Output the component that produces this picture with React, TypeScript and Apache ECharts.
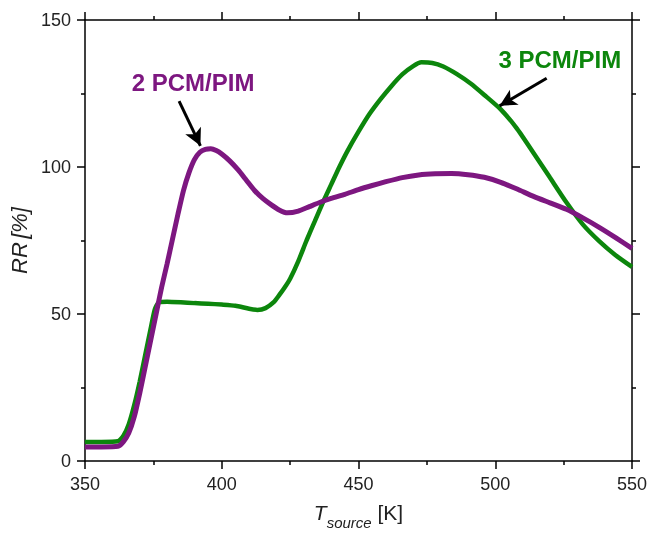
import React, { useEffect, useRef } from "react";
import * as echarts from "echarts";

const purpleT = [350, 356, 362, 364, 366, 368, 370, 372, 374, 376, 378, 380, 382, 384, 386, 388, 390, 392, 394, 396, 398, 400, 403, 406, 409, 412, 415, 418, 421, 424, 428, 432, 436, 440, 445, 450, 455, 460, 466, 472, 478, 484, 490, 496, 502, 508, 514, 520, 526, 532, 538, 544, 550];
const purpleRR = [4.8, 4.8, 5.0, 6.5, 9.5, 15, 23, 32, 41, 50, 59, 67, 75.5, 84, 92, 98, 102.5, 105, 106, 106.2, 105.6, 104.4, 102, 99, 95.5, 92, 89.3, 87.2, 85.4, 84.4, 85, 86.5, 88, 89.3, 90.7, 92.3, 93.7, 95, 96.4, 97.3, 97.7, 97.8, 97.4, 96.5, 94.8, 92.5, 90, 87.8, 85.6, 82.7, 79.5, 76, 72.3];

const greenT = [350, 356, 362, 364, 366, 368, 370, 372, 374, 375.5, 377, 380, 385, 390, 395, 400, 405, 410, 413, 416, 419, 421, 423, 425, 428, 431, 434, 437, 440, 443, 446, 450, 454, 458, 462, 466, 470, 473, 477, 481, 486, 491, 496, 502, 508, 514, 520, 526, 532, 538, 544, 550];
const greenRR = [6.5, 6.5, 6.7, 8.5, 12.5, 19, 27, 36, 45, 51.5, 54, 54.2, 54, 53.7, 53.5, 53.2, 52.8, 51.8, 51.4, 52, 54, 56.4, 59, 62, 68, 75, 81.5, 88, 94, 100, 105.5, 112, 118, 123, 127.5, 131.5, 134.3, 135.6, 135.4, 134.2, 131.6, 128.4, 124.5, 119.6, 113, 104.8, 96.4, 88, 80.5, 74.8, 70, 66];

const xTicks = { min: 350, max: 550, interval: 50 };
const yTicks = { min: 0, max: 150, interval: 50 };

const labels = [
  { text: "2 PCM/PIM", at: [389.5, 128.9], color: "#7d1780" },
  { text: "3 PCM/PIM", at: [523.6, 136.4], color: "#0c860c" },
];
const arrows = [
  { from: [384.4, 122.4], to: [392.2, 107.2] },
  { from: [518.8, 130.2], to: [501.6, 120.8] },
];

const PURPLE = "#7d1780";
const GREEN = "#0c860c";
const FONT = "Liberation Sans, Arial, sans-serif";

export default function App() {
  const ref = useRef<HTMLDivElement>(null);
  useEffect(() => {
    if (!ref.current) return;
    const chart = echarts.init(ref.current, null, { renderer: "svg" });
    const axisLine = { show: true, onZero: false, lineStyle: { color: "#000", width: 1.5 } };
    const tick = { show: true, inside: false, length: 8, lineStyle: { color: "#000", width: 1.5 } };
    const minor = { show: true, splitNumber: 2, length: 4, lineStyle: { color: "#000", width: 1.5 } };
    const green = greenT.map((t, i) => [t, greenRR[i]]);
    const purple = purpleT.map((t, i) => [t, purpleRR[i]]);
    chart.setOption({
      animation: false,
      grid: { left: 85, right: 15, top: 20, bottom: 73, outerBoundsMode: "none", containLabel: false },
      xAxis: [
        {
          type: "value", ...xTicks, position: "bottom",
          axisLine, axisTick: tick, minorTick: minor, splitLine: { show: false },
          axisLabel: { fontSize: 18, color: "#222", fontFamily: FONT, margin: 14 },
          name: "{t|T}{s|source}{n| [K]}",
          nameLocation: "middle", nameGap: 41,
          nameTextStyle: {
            rich: {
              t: { fontSize: 21, fontStyle: "italic", fontFamily: FONT, color: "#222", verticalAlign: "top", lineHeight: 28 },
              s: { fontSize: 15, fontStyle: "italic", fontFamily: FONT, color: "#222", verticalAlign: "bottom", lineHeight: 28 },
              n: { fontSize: 21, fontFamily: FONT, color: "#222", verticalAlign: "top", lineHeight: 28 },
            },
          },
        },
        {
          type: "value", ...xTicks, position: "top",
          axisLine, axisTick: tick, minorTick: minor, splitLine: { show: false },
          axisLabel: { show: false },
        },
      ],
      yAxis: [
        {
          type: "value", ...yTicks, position: "left",
          axisLine, axisTick: tick, minorTick: minor, splitLine: { show: false },
          axisLabel: { fontSize: 18, color: "#222", fontFamily: FONT, margin: 14 },
          name: "{i|RR} {n|[%]}",
          nameLocation: "middle", nameGap: 52, nameRotate: 90,
          nameTextStyle: {
            rich: {
              i: { fontSize: 22, fontStyle: "italic", fontFamily: FONT, color: "#222" },
              n: { fontSize: 22, fontStyle: "italic", fontFamily: FONT, color: "#222" },
            },
          },
        },
        {
          type: "value", ...yTicks, position: "right",
          axisLine, axisTick: tick, minorTick: minor, splitLine: { show: false },
          axisLabel: { show: false },
        },
      ],
      series: [
        {
          type: "line", name: "3 PCM/PIM", data: green, showSymbol: false, smooth: 0.2,
          lineStyle: { color: GREEN, width: 4.5 }, itemStyle: { color: GREEN }, z: 2,
          markLine: {
            silent: true, symbol: ["none", "arrow"], symbolSize: [13, 17],
            label: { show: false },
            lineStyle: { color: "#000", width: 3, type: "solid" },
            data: arrows.map((a) => [{ coord: a.from }, { coord: a.to }]),
          },
        },
        {
          type: "line", name: "2 PCM/PIM", data: purple, showSymbol: false, smooth: 0.2,
          lineStyle: { color: PURPLE, width: 5 }, itemStyle: { color: PURPLE }, z: 3,
        },
      ],
    });
    const graphics = labels.map((l) => {
      const p = chart.convertToPixel({ xAxisIndex: 0, yAxisIndex: 0 }, l.at) as number[];
      return {
        type: "text", x: p[0], y: p[1],
        style: {
          text: l.text, fill: l.color, fontSize: 24, fontWeight: "bold", fontFamily: FONT,
          align: "center", verticalAlign: "middle",
        },
      };
    });
    chart.setOption({ graphic: graphics });
    return () => chart.dispose();
  }, []);
  return <div ref={ref} style={{ position: "fixed", left: 0, top: 0, width: 647, height: 534 }} />;
}
